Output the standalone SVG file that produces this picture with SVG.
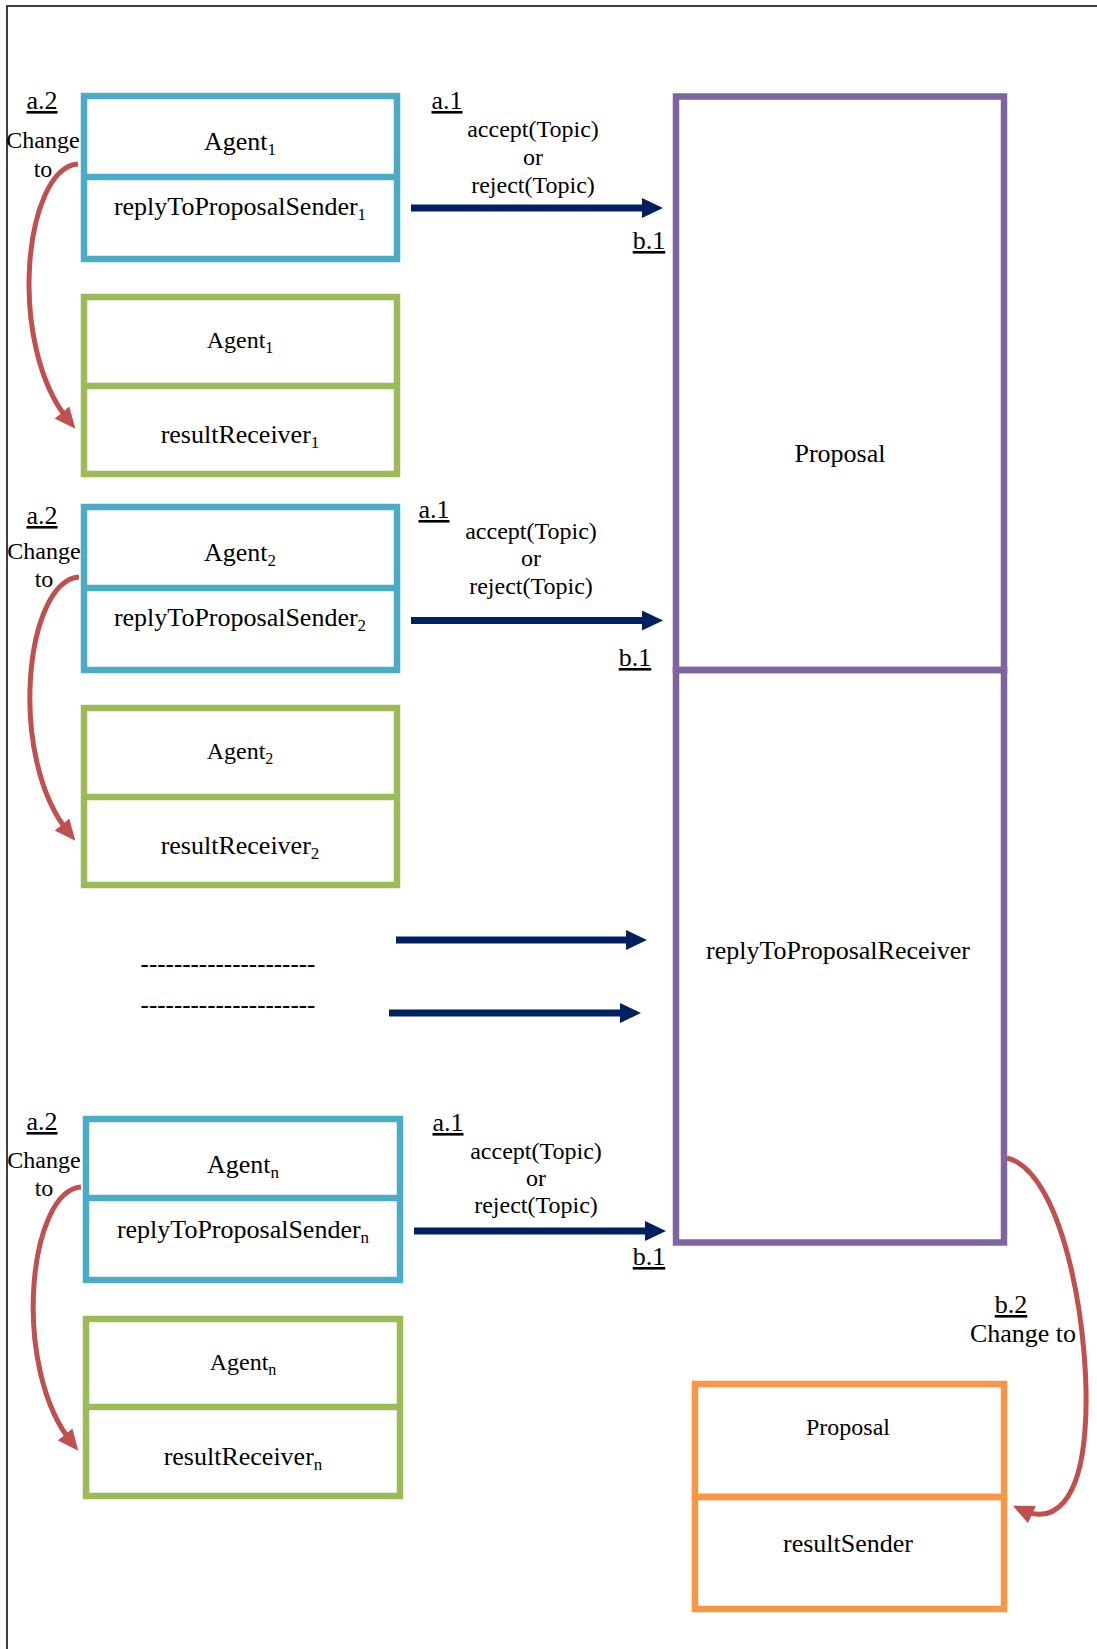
<svg xmlns="http://www.w3.org/2000/svg" width="1097" height="1649" viewBox="0 0 1097 1649">
<defs>
<style>
text{font-family:"Liberation Serif","Times New Roman",serif;fill:#000;text-anchor:middle}
.t26{font-size:26px}.t24{font-size:24px}.t25{font-size:25px}
.ul{text-decoration:underline}
.blue{fill:none;stroke:#4BACC6;stroke-width:6.5}
.green{fill:none;stroke:#9BBB59;stroke-width:6.5}
.purple{fill:none;stroke:#8064A2;stroke-width:6.5}
.orange{fill:none;stroke:#F79646;stroke-width:6.5}
.nav{stroke:#002060;stroke-width:7;fill:none;marker-end:url(#ah)}
.red{stroke:#C0504D;stroke-width:5;fill:none;marker-end:url(#rh)}
.frame{fill:none;stroke:#000;stroke-width:1.5}
</style>
<marker id="ah" markerUnits="userSpaceOnUse" viewBox="0 0 21 20" markerWidth="21" markerHeight="20" refX="10" refY="10" orient="auto">
<path d="M0,0 L21,10 L0,20 z" fill="#002060"/>
</marker>
<marker id="rh" markerUnits="userSpaceOnUse" viewBox="0 0 21 19" markerWidth="21" markerHeight="19" refX="11" refY="9.5" orient="auto">
<path d="M0,0 L21,9.5 L0,19 z" fill="#C0504D"/>
</marker>
</defs>
<rect width="1097" height="1649" fill="#fff"/>
<path class="frame" d="M7,1649 V6 H1097"/>

<g id="agent1-sender">
<rect class="blue" x="84" y="96" width="313" height="163"/>
<line class="blue" x1="84" y1="177" x2="397" y2="177"/>
<text class="t26" x="240" y="150">Agent<tspan font-size="17" dy="5">1</tspan></text>
<text class="t26" x="240" y="215">replyToProposalSender<tspan font-size="17" dy="5">1</tspan></text>
</g>
<g id="agent1-receiver">
<rect class="green" x="84" y="297" width="313" height="177"/>
<line class="green" x1="84" y1="386" x2="397" y2="386"/>
<text class="t24" x="240" y="348">Agent<tspan font-size="16" dy="5">1</tspan></text>
<text class="t26" x="240" y="443">resultReceiver<tspan font-size="17" dy="5">1</tspan></text>
</g>

<g id="agent2-sender">
<rect class="blue" x="84" y="507" width="313" height="163"/>
<line class="blue" x1="84" y1="588" x2="397" y2="588"/>
<text class="t26" x="240" y="561">Agent<tspan font-size="17" dy="5">2</tspan></text>
<text class="t26" x="240" y="626">replyToProposalSender<tspan font-size="17" dy="5">2</tspan></text>
</g>
<g id="agent2-receiver">
<rect class="green" x="84" y="708" width="313" height="177"/>
<line class="green" x1="84" y1="797" x2="397" y2="797"/>
<text class="t24" x="240" y="759">Agent<tspan font-size="16" dy="5">2</tspan></text>
<text class="t26" x="240" y="854">resultReceiver<tspan font-size="17" dy="5">2</tspan></text>
</g>

<g id="agentn-sender">
<rect class="blue" x="86" y="1119" width="314" height="161"/>
<line class="blue" x1="86" y1="1198" x2="400" y2="1198"/>
<text class="t26" x="243" y="1173">Agent<tspan font-size="17" dy="5">n</tspan></text>
<text class="t26" x="243" y="1238">replyToProposalSender<tspan font-size="17" dy="5">n</tspan></text>
</g>
<g id="agentn-receiver">
<rect class="green" x="86" y="1319" width="314" height="177"/>
<line class="green" x1="86" y1="1407" x2="400" y2="1407"/>
<text class="t24" x="243" y="1370">Agent<tspan font-size="16" dy="5">n</tspan></text>
<text class="t26" x="243" y="1465">resultReceiver<tspan font-size="17" dy="5">n</tspan></text>
</g>

<g id="proposal">
<rect class="purple" x="676" y="96.5" width="328" height="573.5"/>
<text class="t26" x="840" y="462">Proposal</text>
</g>
<g id="replyToProposalReceiver">
<rect class="purple" x="676" y="670" width="328" height="572.5"/>
<text class="t26" x="838" y="959">replyToProposalReceiver</text>
</g>

<g id="proposal-resultSender">
<rect class="orange" x="695" y="1384" width="309" height="113"/>
<rect class="orange" x="695" y="1497" width="309" height="112"/>
<text class="t24" x="848" y="1435">Proposal</text>
<text class="t26" x="848" y="1552">resultSender</text>
</g>

<g id="ellipsis">
<text class="t25" x="228" y="972">---------------------</text>
<text class="t25" x="228" y="1013">---------------------</text>
</g>

<g id="connectors">
<line class="nav" x1="411" y1="208" x2="652" y2="208"/>
<line class="nav" x1="411" y1="620.5" x2="652" y2="620.5"/>
<line class="nav" x1="396" y1="940" x2="636" y2="940"/>
<line class="nav" x1="389" y1="1013" x2="630" y2="1013"/>
<line class="nav" x1="414" y1="1231" x2="655" y2="1231"/>
<path class="red" d="M78,164 C24,168 6,345 69,421"/>
<path class="red" d="M79,577 C25,581 7,758 69,833"/>
<path class="red" d="M81,1187 C28,1191 11,1368 72,1443"/>
<path class="red" d="M1007,1158 C1065,1172 1092,1340 1085,1430 C1080,1500 1055,1525 1022,1510"/>
</g>

<g id="labels">
<text class="t26 ul" x="42" y="109">a.2</text>
<text class="t24" x="43" y="148">Change</text>
<text class="t24" x="43" y="177">to</text>
<text class="t26 ul" x="447" y="109">a.1</text>
<text class="t24" x="533" y="137">accept(Topic)</text>
<text class="t24" x="533" y="165">or</text>
<text class="t24" x="533" y="193">reject(Topic)</text>
<text class="t26 ul" x="649" y="249">b.1</text>

<text class="t26 ul" x="42" y="524">a.2</text>
<text class="t24" x="44" y="559">Change</text>
<text class="t24" x="44" y="587">to</text>
<text class="t26 ul" x="434" y="518">a.1</text>
<text class="t24" x="531" y="539">accept(Topic)</text>
<text class="t24" x="531" y="566">or</text>
<text class="t24" x="531" y="594">reject(Topic)</text>
<text class="t26 ul" x="635" y="666">b.1</text>

<text class="t26 ul" x="42" y="1130">a.2</text>
<text class="t24" x="44" y="1168">Change</text>
<text class="t24" x="44" y="1196">to</text>
<text class="t26 ul" x="448" y="1131">a.1</text>
<text class="t24" x="536" y="1159">accept(Topic)</text>
<text class="t24" x="536" y="1186">or</text>
<text class="t24" x="536" y="1213">reject(Topic)</text>
<text class="t26 ul" x="649" y="1265">b.1</text>

<text class="t26 ul" x="1011" y="1313">b.2</text>
<text class="t26" x="1023" y="1342">Change to</text>
</g>
</svg>
